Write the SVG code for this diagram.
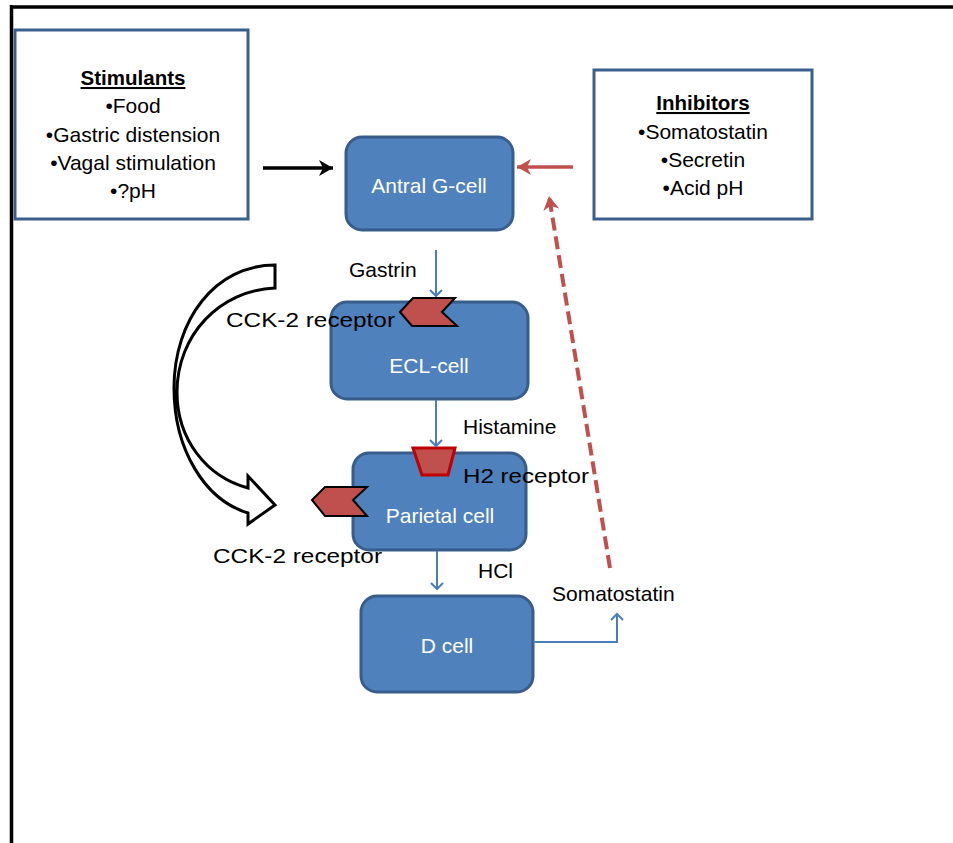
<svg xmlns="http://www.w3.org/2000/svg" width="953" height="843" viewBox="0 0 953 843">
<style>
.box{fill:#fff;stroke:#3a5f8b;stroke-width:3}
.cell{fill:#4f81bd;stroke:#385d8a;stroke-width:3}
.t{font-family:"Liberation Sans",Arial,sans-serif;font-size:21px;fill:#000}
.tb{font-family:"Liberation Sans",Arial,sans-serif;font-size:20.5px;font-weight:bold;text-decoration:underline;fill:#000}
.tw{font-family:"Liberation Sans",Arial,sans-serif;font-size:21px;fill:#fff}
.tr{font-family:"Liberation Sans",Arial,sans-serif;font-size:20px;fill:#000}
.rec{fill:#c0504d;stroke:#000;stroke-width:2;stroke-linejoin:miter}
.blue{fill:none;stroke:#4a7ebb;stroke-width:2}
</style>
<defs>
<marker id="hBlack" markerUnits="userSpaceOnUse" markerWidth="20" markerHeight="20" refX="16" refY="10" orient="auto"><path d="M2,2 L16,10 L2,18 L6,10 Z" fill="#000"/></marker>
<marker id="hRed" markerUnits="userSpaceOnUse" markerWidth="20" markerHeight="20" refX="16" refY="10" orient="auto"><path d="M2,2 L16,10 L2,18 L6,10 Z" fill="#c0504d"/></marker>
<marker id="hBlue" markerUnits="userSpaceOnUse" markerWidth="14" markerHeight="14" refX="7" refY="7" orient="auto"><path d="M1,1 L7,7 L1,13" fill="none" stroke="#4a7ebb" stroke-width="2"/></marker>
</defs>
<rect width="953" height="843" fill="#fff"/>
<g id="frame" stroke="#000" stroke-width="3.5" fill="none">
<line x1="10" y1="7" x2="953" y2="7"/>
<line x1="11.5" y1="5" x2="11.5" y2="843"/>
</g>
<g id="stimulants">
<rect class="box" x="15" y="30" width="233" height="189"/>
<text class="tb" x="133" y="85" text-anchor="middle">Stimulants</text>
<text class="t" x="133" y="113" text-anchor="middle">•Food</text>
<text class="t" x="133" y="142" text-anchor="middle">•Gastric distension</text>
<text class="t" x="133" y="170" text-anchor="middle">•Vagal stimulation</text>
<text class="t" x="133" y="198" text-anchor="middle">•?pH</text>
</g>
<g id="inhibitors">
<rect class="box" x="594" y="70" width="218" height="149"/>
<text class="tb" x="703" y="110" text-anchor="middle">Inhibitors</text>
<text class="t" x="703" y="139" text-anchor="middle">•Somatostatin</text>
<text class="t" x="703" y="167" text-anchor="middle">•Secretin</text>
<text class="t" x="703" y="195" text-anchor="middle">•Acid pH</text>
</g>
<g id="antral-g-cell">
<rect class="cell" x="346" y="137" width="167" height="93" rx="16"/>
<text class="tw" x="429" y="193" text-anchor="middle">Antral G-cell</text>
</g>
<g id="ecl-cell">
<rect class="cell" x="331" y="302" width="197" height="97" rx="16"/>
<text class="tw" x="429" y="373" text-anchor="middle">ECL-cell</text>
</g>
<g id="parietal-cell">
<rect class="cell" x="353" y="453" width="173" height="97" rx="16"/>
<text class="tw" x="440" y="523" text-anchor="middle">Parietal cell</text>
</g>
<g id="d-cell">
<rect class="cell" x="361" y="596" width="172" height="96" rx="16"/>
<text class="tw" x="447" y="653" text-anchor="middle">D cell</text>
</g>
<g id="cck2-receptor-ecl">
<polygon class="rec" points="400,312 413,298 455,298 442,312 457,326 412,326"/>
<text class="tr" x="226" y="327" textLength="169" lengthAdjust="spacingAndGlyphs">CCK-2 receptor</text>
</g>
<g id="h2-receptor">
<polygon points="413,448 455,448 448,475 422,475" fill="#c0504d" stroke="#c00000" stroke-width="3"/>
<text class="tr" x="463" y="483" textLength="126" lengthAdjust="spacingAndGlyphs">H2 receptor</text>
</g>
<g id="cck2-receptor-parietal">
<polygon class="rec" points="312,500 325,487 367,487 353,500 367,516 325,516"/>
<text class="tr" x="213" y="563" textLength="169" lengthAdjust="spacingAndGlyphs">CCK-2 receptor</text>
</g>
<g id="connectors">
<line x1="263" y1="168" x2="333" y2="168" stroke="#000" stroke-width="3.5" marker-end="url(#hBlack)"/>
<line x1="573" y1="167" x2="517" y2="167" stroke="#c0504d" stroke-width="3.5" marker-end="url(#hRed)"/>
<line x1="610" y1="568" x2="549" y2="196" stroke="#c0504d" stroke-width="4" stroke-dasharray="13 6" marker-end="url(#hRed)"/>
<line class="blue" x1="436" y1="250" x2="436" y2="296" marker-end="url(#hBlue)"/>
<text class="t" x="349" y="277">Gastrin</text>
<line class="blue" x1="436" y1="400" x2="436" y2="446" marker-end="url(#hBlue)"/>
<text class="t" x="463" y="434">Histamine</text>
<line class="blue" x1="437" y1="551" x2="437" y2="589" marker-end="url(#hBlue)"/>
<text class="t" x="478" y="578">HCl</text>
<path class="blue" d="M533,642 H617 V614" marker-end="url(#hBlue)"/>
<text class="t" x="552" y="601">Somatostatin</text>
<path d="M275,265 C215,265 174,320 174,388 C174,450 205,500 248,513 L248,524 L275,505 L248,476 L248,488 C207,477 177,440 177,392 C177,335 220,290 275,288 Z" fill="#fff" stroke="#000" stroke-width="3" stroke-linejoin="miter"/>
</g>
</svg>
